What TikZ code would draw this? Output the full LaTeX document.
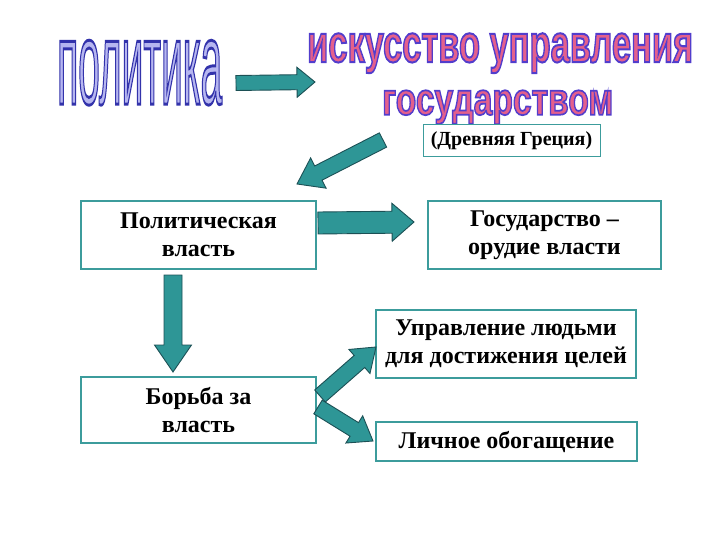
\documentclass[tikz,border=0pt]{standalone}
\usepackage{fontspec}
\setmainfont{Liberation Serif}
\newfontfamily\wafont{Liberation Sans}
\usepackage{graphicx}
\usetikzlibrary{calc}
\definecolor{arrowfill}{RGB}{46,150,150}
\definecolor{arrowline}{RGB}{28,80,85}
\definecolor{boxline}{RGB}{60,156,156}
\definecolor{lavfill}{RGB}{182,182,240}
\definecolor{pinkfill}{RGB}{228,96,140}
% outlined text: fill colour #1, stroke colour (pdf rgb numbers) #2, stroke width #3, text #4
\newcommand\outlined[4]{{\color{#1}\special{pdf:literal direct #2 RG 2 Tr #3 w}#4\special{pdf:literal direct 0 Tr 0.4 w}}}
\newcommand\fatarrow[5]{% #1 tail, #2 tip, #3 half shaft, #4 half head, #5 head length
  \path ($(#2)!#5!(#1)$) coordinate (hb);
  \draw[blockarrow] ($(#1)!#3!90:(#2)$) -- ($(hb)!#3!90:(#2)$) -- ($(hb)!#4!90:(#2)$)
    -- (#2) -- ($(hb)!#4!-90:(#2)$) -- ($(hb)!#3!-90:(#2)$) -- ($(#1)!#3!-90:(#2)$) -- cycle;}
\tikzset{
  blockarrow/.style={fill=arrowfill, draw=arrowline, line width=0.9pt, line join=miter},
  box/.style={draw=boxline, line width=1.5pt, fill=white, align=center, inner sep=0pt,
    font=\bfseries\fontsize{24}{28}\selectfont},
  smallbox/.style={box, line width=1pt, font=\bfseries\fontsize{20}{22}\selectfont},
}
\begin{document}
\begin{tikzpicture}[x=1pt,y=-1pt]
\useasboundingbox (0,0) rectangle (720,540);
% WordArt titles
\node[anchor=north west, inner sep=0pt] (pol) at (57,40)
  {\resizebox*{165pt}{65pt}{\wafont\fontsize{40}{40}\selectfont\outlined{lavfill}{0.2 0.2 0.67}{1.0}{политика}}};
\node[anchor=north west, inner sep=0pt] (isk) at (307,33)
  {\resizebox*{386pt}{40pt}{\wafont\bfseries\fontsize{34}{34}\selectfont\outlined{pinkfill}{0.32 0.24 0.8}{1.3}{искусство управления}}};
\node[anchor=north west, inner sep=0pt] (gosu) at (382,90)
  {\resizebox*{231pt}{34pt}{\wafont\bfseries\fontsize{34}{34}\selectfont\outlined{pinkfill}{0.32 0.24 0.8}{1.3}{государством}}};
% boxes
\node[smallbox, minimum width=177pt, minimum height=32pt] (greece) at (511.5,141) {(Древняя Греция)};
\node[box, minimum width=235pt, minimum height=68pt] (pv) at (198.5,235) {Политическая\\власть};
\node[box, minimum width=233pt, minimum height=68pt] (gos) at (544.5,235) {Государство –\\орудие власти};
\node[box, minimum width=260pt, minimum height=68pt] (upr) at (506,344) {Управление людьми\\для достижения целей};
\node[box, minimum width=235pt, minimum height=66pt] (bor) at (198.5,410) {Борьба за\\власть};
\node[box, minimum width=261pt, minimum height=39pt] (lich) at (506.5,441.5) {Личное обогащение};
% arrow end points
\coordinate (a1t) at (236,83);  \coordinate (a1h) at (315,82);
\coordinate (a2t) at (383,140); \coordinate (a2h) at (297,184);
\coordinate (a3t) at (318,223); \coordinate (a3h) at (414,222);
\coordinate (a4t) at (173,275); \coordinate (a4h) at (173,372);
\coordinate (a5t) at (320,396); \coordinate (a5h) at (376,347);
\coordinate (a6t) at (318,407); \coordinate (a6h) at (373,441);
\fatarrow{a1t}{a1h}{7.5pt}{15pt}{18pt}
\fatarrow{a2t}{a2h}{8pt}{17pt}{24pt}
\fatarrow{a3t}{a3h}{11pt}{19pt}{22pt}
\fatarrow{a4t}{a4h}{9pt}{18.5pt}{27pt}
\fatarrow{a5t}{a5h}{8pt}{16pt}{22pt}
\fatarrow{a6t}{a6h}{8pt}{16pt}{22pt}
\end{tikzpicture}
\end{document}
